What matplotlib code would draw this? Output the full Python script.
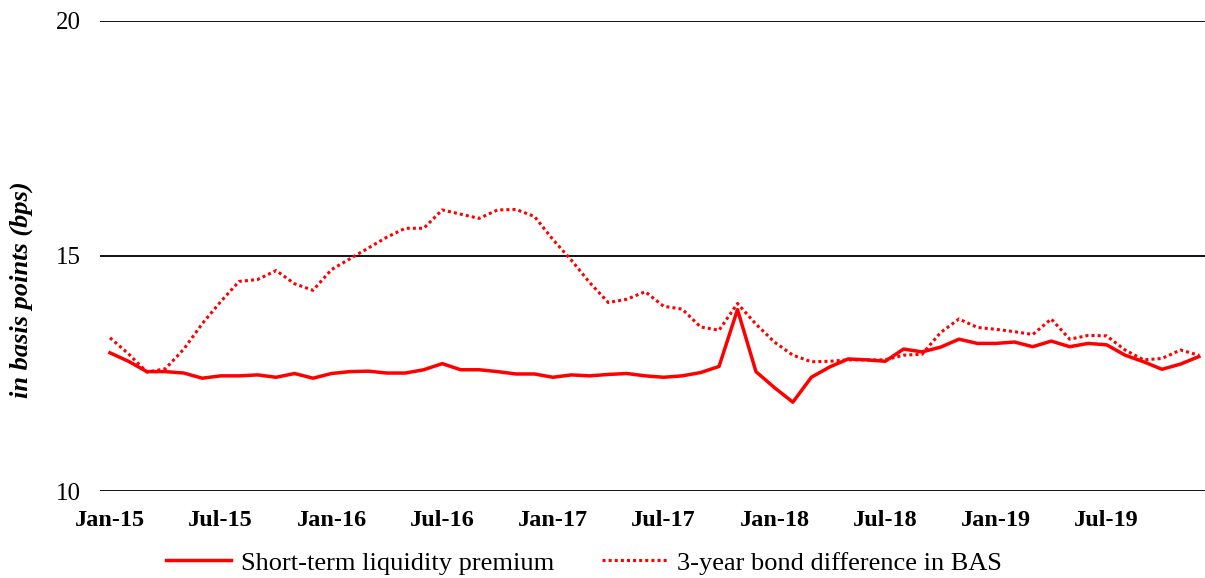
import numpy as np
import matplotlib.pyplot as plt

plt.close("all")
plt.rcParams["font.family"] = ["Liberation Serif", "DejaVu Serif"]

# monthly observations, Jan-15 .. Dec-19
short_term = [12.94, 12.76, 12.54, 12.54, 12.51, 12.40, 12.45, 12.45, 12.47, 12.42,
              12.50, 12.40, 12.50, 12.54, 12.55, 12.51, 12.51, 12.58, 12.71, 12.58,
              12.58, 12.54, 12.49, 12.49, 12.42, 12.47, 12.45, 12.48, 12.50, 12.45,
              12.42, 12.45, 12.52, 12.65, 13.86, 12.54, 12.20, 11.89, 12.42, 12.64,
              12.81, 12.79, 12.76, 13.02, 12.96, 13.06, 13.23, 13.14, 13.14, 13.17,
              13.07, 13.19, 13.07, 13.14, 13.11, 12.89, 12.75, 12.59, 12.70, 12.86]

bond_bas = [13.26, 12.92, 12.53, 12.60, 13.02, 13.56, 14.03, 14.46, 14.50, 14.69,
            14.41, 14.27, 14.71, 14.94, 15.17, 15.40, 15.59, 15.59, 15.98, 15.89,
            15.80, 15.98, 15.99, 15.84, 15.35, 14.91, 14.43, 14.01, 14.08, 14.24,
            13.93, 13.87, 13.49, 13.42, 13.99, 13.55, 13.17, 12.89, 12.75, 12.76,
            12.79, 12.79, 12.79, 12.89, 12.91, 13.37, 13.66, 13.48, 13.44, 13.39,
            13.33, 13.66, 13.23, 13.31, 13.30, 13.00, 12.79, 12.82, 13.00, 12.89]

tick_labels = ["Jan-15", "Jul-15", "Jan-16", "Jul-16", "Jan-17",
               "Jul-17", "Jan-18", "Jul-18", "Jan-19", "Jul-19"]

x = np.arange(len(short_term))

fig = plt.figure(figsize=(12.05, 5.78), dpi=100)
ax = fig.add_axes([0.083, 0.1505, 0.917, 0.8132])

ax.plot(x, short_term, color="#FF0000", linewidth=2.5, linestyle="-",
        label="Short-term liquidity premium")
ax.plot(x, bond_bas, color="#FF0000", linewidth=2.2, linestyle=(0, (1, 1)),
        label="3-year bond difference in BAS")

ax.set_xlim(-0.54, 59.33)
ax.set_ylim(10, 20)
ax.set_yticks([10, 15, 20])
ax.set_xticks(x[::6])
ax.set_xticklabels(tick_labels, fontweight="bold")
ax.tick_params(axis="x", length=0, labelsize=17.5, pad=14)
ax.tick_params(axis="y", length=0, labelsize=18, pad=14)
ax.yaxis.grid(True, color="black", linewidth=1.3)
ax.set_axisbelow(True)
for s in ax.spines.values():
    s.set_visible(False)

ax.set_ylabel("in basis points (bps)", fontsize=19, fontweight="bold",
              fontstyle="italic")
ax.yaxis.set_label_coords(-0.061, 0.428)

ax.legend(loc="center", bbox_to_anchor=(0.438, -0.153), ncol=2,
          frameon=False, fontsize=19, handlelength=2.46, columnspacing=1.8,
          handletextpad=0.38)

plt.savefig("out.png", dpi=100)
